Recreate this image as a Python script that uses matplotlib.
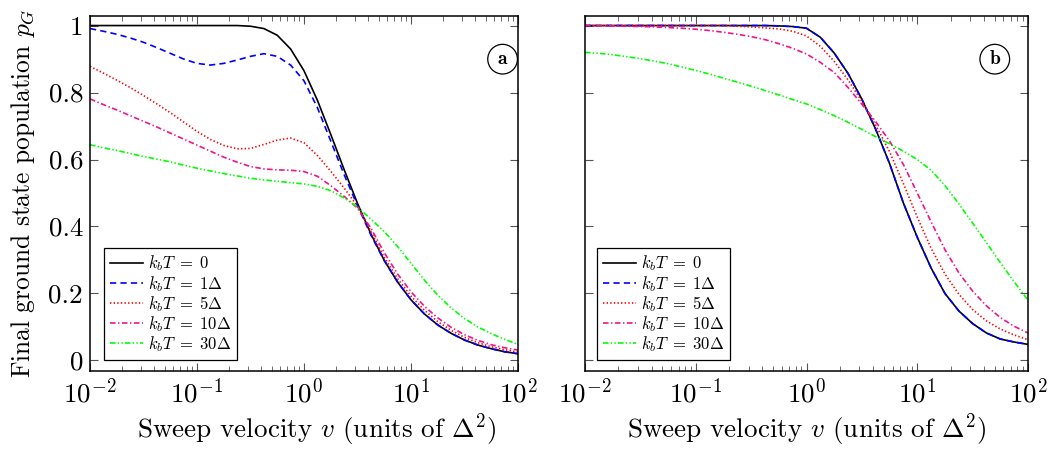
import numpy as np
import matplotlib
matplotlib.use("Agg")
import matplotlib.pyplot as plt
from matplotlib.ticker import FixedLocator, FixedFormatter, LogLocator, NullFormatter

# ---------------- data ----------------
log_v = [-2, -1.875, -1.75, -1.625, -1.5, -1.375, -1.25, -1.125, -1, -0.875, -0.75,
         -0.625, -0.5, -0.375, -0.25, -0.125, 0, 0.125, 0.25, 0.375, 0.5, 0.625,
         0.75, 0.875, 1, 1.125, 1.25, 1.375, 1.5, 1.625, 1.75, 1.875, 2]

labels = [r"$k_bT\;=\;0$", r"$k_bT\;=\;1\Delta$", r"$k_bT\;=\;5\Delta$",
          r"$k_bT\;=\;10\Delta$", r"$k_bT\;=\;30\Delta$"]

# panel (a)
a_T0 = [1, 1, 1, 1, 1, 1, 1, 1, 1, 1, 1, 1, 0.998, 0.991, 0.971, 0.930, 0.865,
        0.777, 0.675, 0.570, 0.469, 0.378, 0.299, 0.234, 0.181, 0.139, 0.106,
        0.081, 0.061, 0.046, 0.035, 0.026, 0.020]
a_T1 = [0.991, 0.983, 0.974, 0.963, 0.950, 0.934, 0.917, 0.900, 0.887, 0.882,
        0.887, 0.897, 0.908, 0.916, 0.908, 0.882, 0.835, 0.755, 0.655, 0.555,
        0.462, 0.375, 0.298, 0.234, 0.181, 0.139, 0.106, 0.081, 0.061, 0.046,
        0.035, 0.026, 0.020]
a_T5 = [0.878, 0.858, 0.837, 0.815, 0.791, 0.766, 0.740, 0.712, 0.684, 0.660,
        0.642, 0.632, 0.633, 0.645, 0.658, 0.664, 0.650, 0.612, 0.565, 0.515,
        0.460, 0.385, 0.308, 0.244, 0.192, 0.150, 0.116, 0.090, 0.069, 0.053,
        0.041, 0.032, 0.025]
a_T10 = [0.781, 0.764, 0.748, 0.731, 0.714, 0.697, 0.679, 0.661, 0.643, 0.625,
         0.607, 0.592, 0.579, 0.572, 0.569, 0.568, 0.564, 0.550, 0.522, 0.490,
         0.455, 0.395, 0.322, 0.258, 0.205, 0.162, 0.127, 0.099, 0.077, 0.060,
         0.047, 0.038, 0.031]
a_T30 = [0.644, 0.635, 0.627, 0.618, 0.609, 0.601, 0.593, 0.583, 0.574, 0.566,
         0.558, 0.551, 0.544, 0.539, 0.535, 0.531, 0.527, 0.520, 0.507, 0.485,
         0.458, 0.422, 0.385, 0.340, 0.290, 0.240, 0.195, 0.157, 0.125, 0.100,
         0.080, 0.063, 0.048]

# panel (b)
b_T0 = [1, 1, 1, 1, 1, 1, 1, 1, 1, 1, 1, 1, 1, 1, 0.999, 0.997, 0.992, 0.965,
        0.918, 0.857, 0.780, 0.690, 0.588, 0.470, 0.368, 0.276, 0.200, 0.148,
        0.110, 0.082, 0.064, 0.055, 0.048]
b_T1 = [1, 1, 1, 1, 1, 1, 1, 1, 1, 1, 1, 1, 1, 1, 0.999, 0.997, 0.992, 0.965,
        0.918, 0.857, 0.780, 0.690, 0.588, 0.470, 0.368, 0.276, 0.200, 0.148,
        0.110, 0.082, 0.064, 0.055, 0.048]
b_T5 = [1, 1, 1, 1, 1, 1, 1, 1, 1, 1, 1, 0.998, 0.996, 0.993, 0.990, 0.983,
        0.969, 0.938, 0.893, 0.838, 0.774, 0.703, 0.623, 0.528, 0.428, 0.335,
        0.258, 0.198, 0.152, 0.118, 0.094, 0.076, 0.062]
b_T10 = [1.0, 0.999, 0.999, 0.998, 0.997, 0.996, 0.994, 0.992, 0.989, 0.985,
         0.980, 0.974, 0.967, 0.958, 0.946, 0.932, 0.915, 0.890, 0.860, 0.815,
         0.765, 0.713, 0.655, 0.585, 0.500, 0.414, 0.331, 0.262, 0.207, 0.163,
         0.128, 0.102, 0.082]
b_T30 = [0.920, 0.917, 0.913, 0.907, 0.901, 0.894, 0.886, 0.876, 0.866, 0.855,
         0.843, 0.831, 0.819, 0.806, 0.793, 0.779, 0.766, 0.749, 0.731, 0.711,
         0.690, 0.668, 0.647, 0.625, 0.600, 0.568, 0.522, 0.468, 0.410, 0.352,
         0.292, 0.235, 0.180]

y_ticks = [0, 0.2, 0.4, 0.6, 0.8, 1]
y_ticklabels = ["0", "0.2", "0.4", "0.6", "0.8", "1"]
x_ticks = [1e-2, 1e-1, 1e0, 1e1, 1e2]
x_ticklabels = [r"$10^{-2}$", r"$10^{-1}$", r"$10^{0}$", r"$10^{1}$", r"$10^{2}$"]

# ---------------- style ----------------
plt.rcParams["font.family"] = ["cmr10", "DejaVu Serif"]
plt.rcParams["mathtext.fontset"] = "cm"
plt.rcParams["axes.formatter.use_mathtext"] = True
plt.rcParams["axes.unicode_minus"] = False
plt.rcParams["lines.scale_dashes"] = False

colors = ["black", "#0000ff", "#ff0000", "#f0148c", "#00ff00"]
dashes = [None, (4.5, 3.0), (1.0, 1.6), (4.0, 1.8, 1.0, 1.8),
          (4.0, 1.6, 1.0, 1.6, 1.0, 1.6)]

v = np.power(10.0, np.array(log_v))

FS = 19.5
fig = plt.figure(figsize=(10.56, 4.49), dpi=100)
H = 449.0
W = 1056.0
axA = fig.add_axes([90 / W, 1 - 370.5 / H, 428 / W, 355 / H])
axB = fig.add_axes([585 / W, 1 - 370.5 / H, 443 / W, 355 / H])

panels = [(axA, [a_T0, a_T1, a_T5, a_T10, a_T30], "a", 0.964, 14 / 428),
          (axB, [b_T0, b_T1, b_T5, b_T10, b_T30], "b", 0.925, 12 / 443)]

for ax, series, tag, tx, lx in panels:
    for ys, c, d, lab in zip(series, colors, dashes, labels):
        kw = dict(color=c, lw=1.2, label=lab)
        if d is not None:
            kw["dashes"] = d
        ax.plot(v, ys, **kw)
    ax.set_xscale("log")
    ax.set_xlim(1e-2, 1e2)
    ax.set_ylim(-0.03, 1.03)
    ax.xaxis.set_major_locator(FixedLocator(x_ticks))
    ax.xaxis.set_major_formatter(FixedFormatter(x_ticklabels))
    ax.xaxis.set_minor_locator(LogLocator(base=10, subs=np.arange(2, 10), numticks=20))
    ax.xaxis.set_minor_formatter(NullFormatter())
    ax.yaxis.set_major_locator(FixedLocator(y_ticks))
    if ax is axA:
        ax.yaxis.set_major_formatter(FixedFormatter(y_ticklabels))
    else:
        ax.yaxis.set_major_formatter(NullFormatter())
    ax.tick_params(which="both", direction="in", top=True, right=True,
                   labelsize=FS, color="#555555")
    ax.tick_params(which="major", length=6, width=0.8)
    ax.tick_params(which="minor", length=3.5, width=0.6)
    ax.tick_params(axis="x", pad=5)
    ax.tick_params(axis="y", pad=5)
    for s in ax.spines.values():
        s.set_linewidth(1.1)
    ax.set_xlabel(r"Sweep velocity $v$ (units of $\Delta^2$)", fontsize=FS, labelpad=3)
    leg = ax.legend(loc="lower left", bbox_to_anchor=(lx, 10.5 / 355),
                    borderaxespad=0, fontsize=12, handlelength=2.0,
                    handletextpad=0.3, borderpad=0.35, labelspacing=0.02,
                    fancybox=False, framealpha=1, edgecolor="black")
    leg.get_frame().set_linewidth(0.9)
    ax.text(tx, 0.877, tag, transform=ax.transAxes, ha="center", va="center",
            fontfamily="cmb10", fontsize=14,
            bbox=dict(boxstyle="circle,pad=0.3", fc="white", ec="black", lw=0.9))

axA.xaxis.label.set_x(0.53)
axA.set_ylabel(r"Final ground state population $p_G$", fontsize=18.3, labelpad=8)

fig.savefig("out.png", dpi=100)
